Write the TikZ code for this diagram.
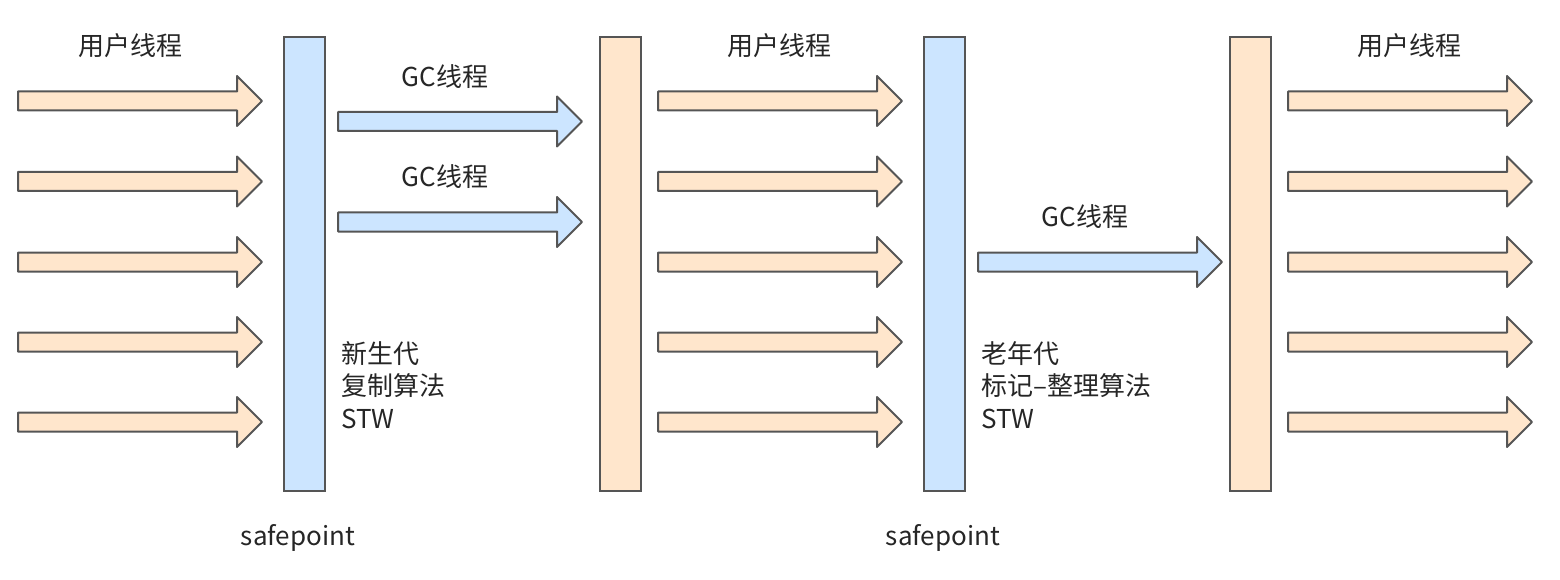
\documentclass[tikz,border=0pt]{standalone}
\usepackage{fontspec}
\setmainfont{Noto Sans CJK SC}
\definecolor{ofill}{HTML}{FFE6CC}
\definecolor{bfill}{HTML}{CCE5FF}
\definecolor{edge}{HTML}{555555}
\definecolor{txt}{HTML}{262626}
\newcommand\harrow[3]{%
  \draw[#3] (#1,#2-9.5) -- ++(219,0) -- ++(0,-15.5) -- ++(25,25) -- ++(-25,25) -- ++(0,-15.5) -- ++(-219,0) -- cycle;}
\begin{document}
\begin{tikzpicture}[x=1pt,y=-1pt,
  oarr/.style={fill=ofill,draw=edge,line width=2pt,line join=round},
  barr/.style={fill=bfill,draw=edge,line width=2pt,line join=round},
  bar/.style={draw=edge,line width=2pt,minimum width=41pt,minimum height=454pt,inner sep=0pt},
  lbl/.style={text=txt,font=\fontsize{26}{30}\selectfont,inner sep=0pt},
  note/.style={text=txt,font=\fontsize{26}{32.5}\selectfont,align=left,anchor=base west,inner sep=0pt}]
\useasboundingbox (0,0) rectangle (1560,580);
% bars
\node[bar,fill=bfill] (bar1) at (304.5,264) {};
\node[bar,fill=ofill] (bar2) at (620,264) {};
\node[bar,fill=bfill] (bar3) at (944.5,264) {};
\node[bar,fill=ofill] (bar4) at (1250.5,264) {};
% user threads
\foreach \y in {101,181.5,262,342,422}{
  \harrow{18}{\y}{oarr}
  \harrow{658}{\y}{oarr}
  \harrow{1288}{\y}{oarr}
}
% GC threads
\harrow{338}{121.5}{barr}
\harrow{338}{222}{barr}
\harrow{978}{262}{barr}
% labels
\node[lbl] (u1) at (130,46) {用户线程};
\node[lbl] (u2) at (779,46) {用户线程};
\node[lbl] (u3) at (1409,46) {用户线程};
\node[lbl] (g1) at (445,77) {GC线程};
\node[lbl] (g2) at (445,177) {GC线程};
\node[lbl] (g3) at (1085,217) {GC线程};
\node[note] (n1) at (341,428) {新生代\\复制算法\\STW};
\node[note] (n2) at (981,428) {老年代\\标记–整理算法\\STW};
\node[lbl] (s1) at (298,538) {safepoint};
\node[lbl] (s2) at (943,538) {safepoint};
\end{tikzpicture}
\end{document}
